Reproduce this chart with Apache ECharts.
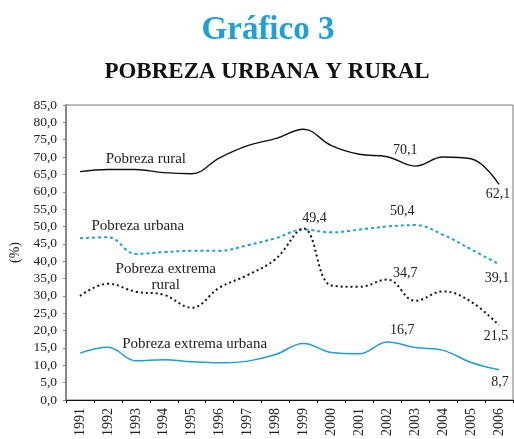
<!DOCTYPE html>
<html>
<head>
<meta charset="utf-8">
<script src="https://cdn.jsdelivr.net/npm/echarts@6/dist/echarts.min.js"></script>
<style>
  html, body { margin: 0; padding: 0; background: #fff; }
  #chart { width: 514px; height: 439px; }
</style>
</head>
<body>
<div id="chart"></div>
<script>
// datos
const years = ['1991', '1992', '1993', '1994', '1995', '1996', '1997', '1998',
  '1999', '2000', '2001', '2002', '2003', '2004', '2005', '2006']
const pobrezaRural = [65.8, 66.4, 66.4, 65.5, 65.2, 69.8, 73.3, 75.3, 78.0, 73.3, 70.8, 70.1, 67.4, 70.0, 69.5, 62.1]
const pobrezaUrbana = [46.6, 46.9, 42.1, 42.6, 43.0, 43.0, 44.6, 46.6, 49.1, 48.3, 49.1, 50.0, 50.4, 47.6, 43.4, 39.1]
const extremaRural = [30.0, 33.5, 31.2, 30.3, 26.6, 32.4, 36.0, 40.6, 49.4, 33.0, 32.6, 34.7, 28.6, 31.3, 28.3, 21.5]
const extremaUrbana = [13.5, 15.2, 11.3, 11.6, 11.0, 10.7, 11.2, 13.1, 16.3, 13.7, 13.3, 16.7, 15.1, 14.3, 10.8, 8.7]
const yTicks = { min: 0, max: 85, step: 5 }

const serif = 'Liberation Serif'
const blue = '#1c9fdb'
const comma = v => v.toFixed(1).replace('.', ',')

// etiqueta de texto anclada a una categoría y valor
function note(text, idx, val, dx, size) {
  return {
    coord: [idx, val],
    symbol: 'circle',
    symbolSize: 0,
    label: {
      show: true, position: 'inside', formatter: text, offset: [dx, 0],
      color: '#222', fontFamily: serif, fontSize: size || 14, lineHeight: 16
    }
  }
}

function line(name, data, color, type, width, notes) {
  return {
    name, type: 'line', data, smooth: 0.4, symbol: 'none',
    lineStyle: { color, width, type },
    markPoint: { silent: true, data: notes, animation: false }
  }
}

const chart = echarts.init(document.getElementById('chart'))
chart.setOption({
  animation: false,
  title: [
    {
      text: 'Gráfico 3', left: 263, top: 9, textAlign: 'center',
      textStyle: { color: blue, fontFamily: serif, fontSize: 33, fontWeight: 'bold' }
    },
    {
      text: 'POBREZA URBANA Y RURAL', left: 262, top: 56, textAlign: 'center',
      textStyle: { color: '#111', fontFamily: serif, fontSize: 23, fontWeight: 'bold' }
    }
  ],
  grid: {
    left: 63, right: 1, top: 105, bottom: 33,
    show: true, borderColor: '#777', borderWidth: 1, backgroundColor: 'transparent'
  },
  xAxis: {
    type: 'category', data: years, boundaryGap: true,
    axisLine: { lineStyle: { color: '#111', width: 1 } },
    axisTick: { show: true, interval: 0, length: 3, lineStyle: { color: '#111' } },
    axisLabel: { interval: 0, rotate: 90, margin: 8, color: '#222', fontFamily: serif, fontSize: 14 }
  },
  yAxis: {
    type: 'value', min: yTicks.min, max: yTicks.max, interval: yTicks.step,
    name: '(%)', nameLocation: 'middle', nameRotate: 90, nameGap: 44,
    nameTextStyle: { color: '#222', fontFamily: serif, fontSize: 14 },
    splitLine: { show: false },
    axisLine: { show: true, lineStyle: { color: '#888', width: 2 } },
    axisTick: { show: true, length: 3, lineStyle: { color: '#888' } },
    axisLabel: { formatter: comma, margin: 9, color: '#222', fontFamily: serif, fontSize: 13.5 }
  },
  series: [
    line('Pobreza rural', pobrezaRural, '#111', 'solid', 1.4, [
      note('Pobreza rural', 2, 69.4, 10, 15),
      note('70,1', 11, 72.0, 18),
      note('62,1', 15, 59.2, -1)
    ]),
    line('Pobreza urbana', pobrezaUrbana, blue, [3, 3], 2, [
      note('Pobreza urbana', 2, 50.1, 2, 15),
      note('49,4', 8, 52.4, 11),
      note('50,4', 11, 54.4, 15),
      note('39,1', 15, 35.1, -2)
    ]),
    line('Pobreza extrema rural', extremaRural, '#111', [2, 3], 2, [
      note('Pobreza extrema\nrural', 3, 35.4, 2, 15),
      note('34,7', 11, 36.5, 18),
      note('21,5', 15, 18.4, -3)
    ]),
    line('Pobreza extrema urbana', extremaUrbana, blue, 'solid', 1.5, [
      note('Pobreza extrema urbana', 4, 16.1, 3, 15),
      note('16,7', 11, 20.1, 15),
      note('8,7', 15, 5.1, 1)
    ])
  ]
})
</script>
</body>
</html>
